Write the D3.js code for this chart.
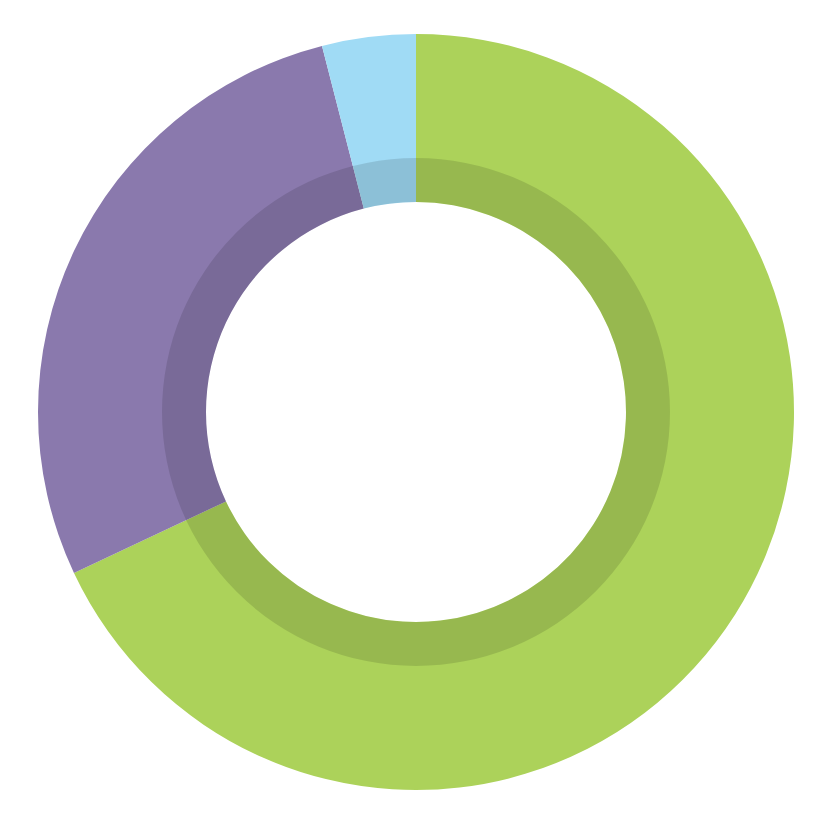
<!DOCTYPE html>
<html lang="en">
<head>
    <meta charset="UTF-8">
    <title>Donut</title>
    <script src="https://d3js.org/d3.v7.min.js"></script>
    <style>
        body { margin: 0; background: #fff; }
    </style>
</head>
<body>
    <svg id="svg" width="827" height="819"></svg>

    <script>
        const categories = ["Green", "Purple", "Blue"];
        const values = [68, 28, 4];
        const colors = ["#acd25a", "#8a79ad", "#a0dbf5"];

        let svg = d3.select('svg');
        let cx = 416, cy = 412;
        let outerR = 378, innerR = 210, bandR = 254;

        let g = svg.append('g')
            .attr('transform', `translate(${cx},${cy})`);

        const pie = d3.pie().sort(null).value(d => d.value);
        const data = categories.map((c, i) => ({ name: c, value: values[i], color: colors[i] }));
        const arcs = pie(data);

        const arc = d3.arc().innerRadius(innerR).outerRadius(outerR);

        g.selectAll('path.slice')
            .data(arcs)
            .enter()
            .append('path')
            .attr('class', 'slice')
            .attr('d', arc)
            .attr('fill', d => d.data.color);

        // darker inner ring
        g.append('path')
            .attr('d', d3.arc().innerRadius(innerR).outerRadius(bandR).startAngle(0).endAngle(2 * Math.PI)())
            .attr('fill', '#000')
            .attr('fill-opacity', 0.12);
    </script>
</body>
</html>
